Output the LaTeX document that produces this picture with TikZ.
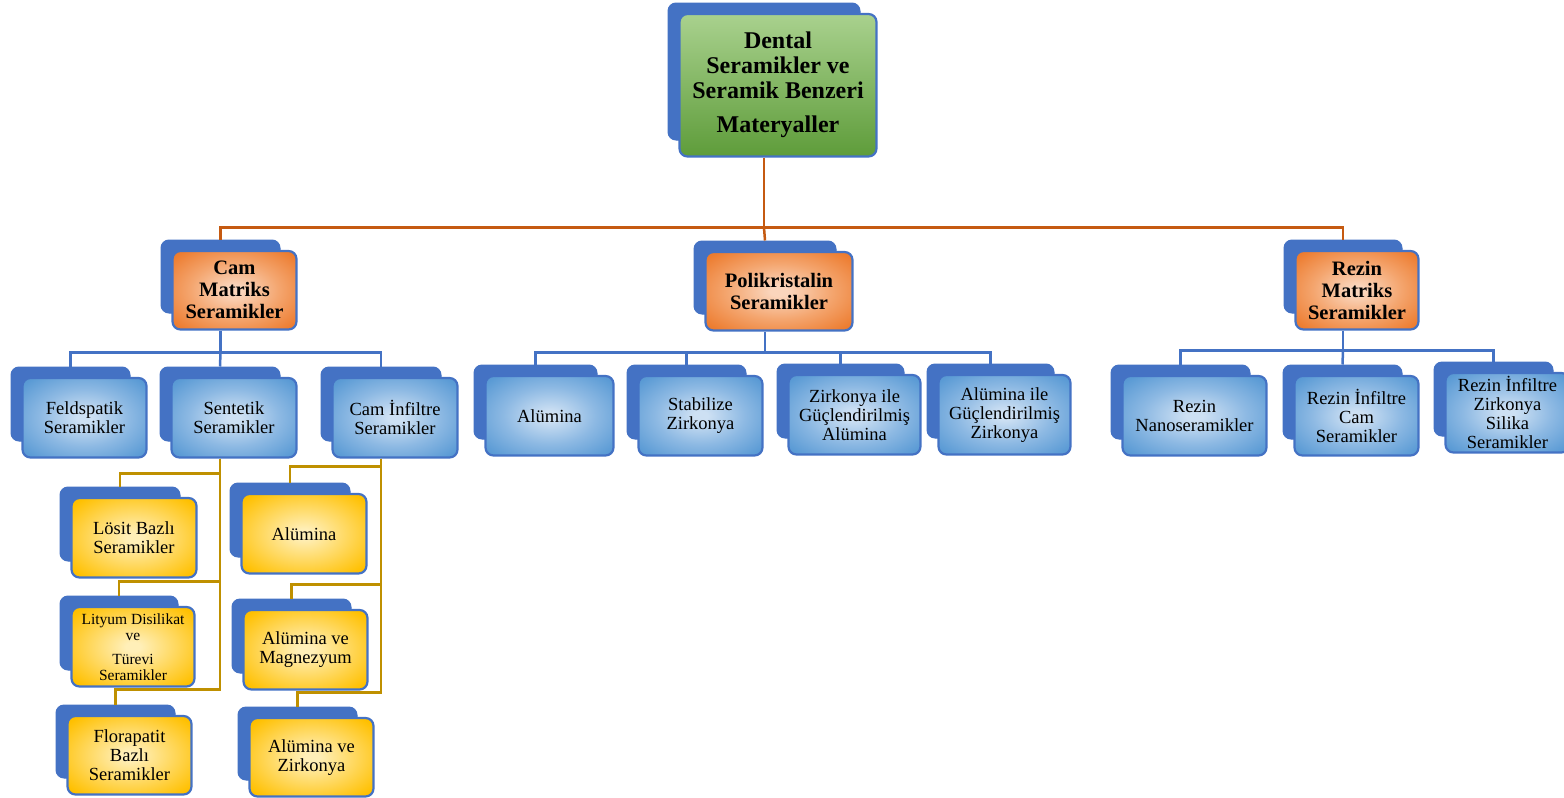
\documentclass[tikz,border=0pt]{standalone}
\usepackage{fontspec}
\setmainfont{Liberation Serif}
\definecolor{backblue}{HTML}{4472C4}
\definecolor{bluein}{HTML}{CDE0F3}
\definecolor{bluemid}{HTML}{8DB9E3}
\definecolor{blueout}{HTML}{5B9BD5}
\definecolor{blueedge}{HTML}{3F78B8}
\definecolor{orin}{HTML}{FAD5BC}
\definecolor{ormid}{HTML}{F4A56E}
\definecolor{orout}{HTML}{ED7D31}
\definecolor{oredge}{HTML}{C5601B}
\definecolor{yein}{HTML}{FFEFB8}
\definecolor{yemid}{HTML}{FFD75A}
\definecolor{yeout}{HTML}{FFC000}
\definecolor{yeedge}{HTML}{E3A500}
\definecolor{grtop}{HTML}{A9D18E}
\definecolor{grmid}{HTML}{8DC26B}
\definecolor{grbot}{HTML}{5E9C3A}
\definecolor{rootline}{HTML}{C55A11}
\definecolor{goldline}{HTML}{BF9000}
\pgfdeclareradialshading{blueshade}{\pgfpoint{0bp}{0bp}}{color(0bp)=(bluein); color(3bp)=(bluein); color(18bp)=(bluemid); color(32bp)=(blueout); color(48bp)=(blueedge); color(72bp)=(blueedge)}
\pgfdeclareradialshading{orangeshade}{\pgfpoint{0bp}{0bp}}{color(0bp)=(orin); color(3bp)=(orin); color(18bp)=(ormid); color(32bp)=(orout); color(48bp)=(oredge); color(72bp)=(oredge)}
\pgfdeclareradialshading{yellowshade}{\pgfpoint{0bp}{0bp}}{color(0bp)=(yein); color(3bp)=(yein); color(18bp)=(yemid); color(32bp)=(yeout); color(48bp)=(yeedge); color(72bp)=(yeedge)}
\tikzset{
  backbox/.style={rectangle,rounded corners=8pt,fill=backblue,draw=backblue,line width=1pt,inner sep=0pt},
  frontbox/.style={rectangle,rounded corners=8pt,draw=backblue,line width=2.2pt,inner sep=0pt,align=center,text=black},
  bluefill/.style={shading=blueshade},
  orangefill/.style={shading=orangeshade},
  yellowfill/.style={shading=yellowshade},
  greenfill/.style={top color=grtop,middle color=grmid,bottom color=grbot},
  troot/.style={font=\fontsize{24}{25}\selectfont\bfseries},
  ttwo/.style={font=\fontsize{20.5}{22}\selectfont\bfseries},
  tthree/.style={font=\fontsize{18.5}{19}\selectfont},
  tsmall/.style={font=\fontsize{15.5}{16}\selectfont},
  orline/.style={draw=rootline,line width=2.5pt},
  bline/.style={draw=backblue,line width=2.5pt},
  yline/.style={draw=goldline,line width=2.3pt}
}
\newcommand\mybox[8]{%
  \pgfmathsetmacro\mbW{#5-#3}%
  \pgfmathsetmacro\mbH{#6-#4}%
  \pgfmathsetmacro\mbX{(#3+#5)/2}%
  \pgfmathsetmacro\mbY{(#4+#6)/2}%
  \pgfmathsetmacro\mfW{\mbW+5}%
  \pgfmathsetmacro\mfH{\mbH+5.5}%
  \pgfmathsetmacro\mfX{\mbX+14}%
  \pgfmathsetmacro\mfY{\mbY+13.75}%
  \node[backbox,minimum width=\mbW pt,minimum height=\mbH pt] (#1B) at (\mbX,\mbY) {};
  \node[frontbox,#2,#7,minimum width=\mfW pt,minimum height=\mfH pt] (#1) at (\mfX,\mfY) {#8};
}
\begin{document}
\begin{tikzpicture}[x=1pt,y=-1pt]
\useasboundingbox (0,0) rectangle (1564,798);
% root
\mybox{root}{greenfill}{668}{3}{860}{140}{troot}{Dental\\Seramikler ve\\Seramik Benzeri\\[9pt]Materyaller}
% level 2
\mybox{cam}{orangefill}{161}{240}{280}{313}{ttwo}{Cam\\Matriks\\Seramikler}
\mybox{poly}{orangefill}{694}{241}{836}{314}{ttwo}{Polikristalin\\Seramikler}
\mybox{rez}{orangefill}{1284}{240}{1402}{313}{ttwo}{Rezin\\Matriks\\Seramikler}
% level 3
\mybox{feld}{bluefill}{11}{367}{130}{441}{tthree}{Feldspatik\\Seramikler}
\mybox{sent}{bluefill}{160}{367}{280}{441}{tthree}{Sentetik\\Seramikler}
\mybox{cinf}{bluefill}{321}{367}{441}{441}{tthree}{Cam İnfiltre\\Seramikler}
\mybox{alum}{bluefill}{474}{365}{597}{439}{tthree}{Alümina}
\mybox{stab}{bluefill}{627}{365}{746}{439}{tthree}{Stabilize\\Zirkonya}
\mybox{zirk}{bluefill}{777}{364}{904}{438}{tthree}{Zirkonya ile\\Güçlendirilmiş\\Alümina}
\mybox{alz}{bluefill}{927}{364}{1054}{438}{tthree}{Alümina ile\\Güçlendirilmiş\\Zirkonya}
\mybox{rnano}{bluefill}{1111}{365}{1250}{439}{tthree}{Rezin\\Nanoseramikler}
\mybox{rinf}{bluefill}{1283}{365}{1402}{439}{tthree}{Rezin İnfiltre\\Cam\\Seramikler}
\mybox{rzirk}{bluefill}{1434}{362}{1553}{436}{tthree}{Rezin İnfiltre\\Zirkonya\\Silika\\Seramikler}
% level 4
\mybox{losit}{yellowfill}{60}{487}{180}{561}{tthree}{Lösit Bazlı\\Seramikler}
\mybox{lity}{yellowfill}{60}{596}{178}{670}{tsmall}{Lityum Disilikat\\ve\\[8pt]Türevi\\Seramikler}
\mybox{flor}{yellowfill}{56}{705}{175}{778}{tthree}{Florapatit\\Bazlı\\Seramikler}
\mybox{alumy}{yellowfill}{230}{483}{350}{557}{tthree}{Alümina}
\mybox{almag}{yellowfill}{232}{599}{351}{673}{tthree}{Alümina ve\\Magnezyum}
\mybox{alzir}{yellowfill}{238}{707}{357}{780}{tthree}{Alümina ve\\Zirkonya}
% connectors root -> level 2
\draw[orline] (rootB |- root.south) -- ++(0,70) coordinate (bus0);
\draw[orline] (bus0) -| (camB.north);
\draw[orline] (bus0) -| (rezB.north);
\draw[orline] (bus0) -- (polyB.north);
% cam -> level 3
\draw[bline] (camB |- cam.south) -- ++(0,22) coordinate (bus1);
\draw[bline] (bus1) -| (feldB.north);
\draw[bline] (bus1) -| (cinfB.north);
\draw[bline] (bus1) -- (sentB.north);
% poly -> level 3
\draw[bline] (polyB |- poly.south) -- ++(0,21) coordinate (bus2);
\draw[bline] (bus2) -| (alumB.north);
\draw[bline] (bus2) -| (stabB.north);
\draw[bline] (bus2) -| (zirkB.north);
\draw[bline] (bus2) -| (alzB.north);
% rez -> level 3
\draw[bline] (rezB |- rez.south) -- ++(0,20) coordinate (bus3);
\draw[bline] (bus3) -| (rnanoB.north);
\draw[bline] (bus3) -| (rzirkB.north);
\draw[bline] (bus3) -- (rinfB.north);
% sentetik -> level 4
\draw[yline] (sentB |- sent.south) |- ([yshift=13pt]lositB.north) -- (lositB.north);
\draw[yline] (sentB |- sent.south) |- ([yshift=14pt]lityB.north) -- (lityB.north);
\draw[yline] (sentB |- sent.south) |- ([yshift=15pt]florB.north) -- (florB.north);
% cam infiltre -> level 4
\draw[yline] (cinfB |- cinf.south) |- ([yshift=16pt]alumyB.north) -- (alumyB.north);
\draw[yline] (cinfB |- cinf.south) |- ([yshift=14pt]almagB.north) -- (almagB.north);
\draw[yline] (cinfB |- cinf.south) |- ([yshift=14pt]alzirB.north) -- (alzirB.north);
\end{tikzpicture}
\end{document}
